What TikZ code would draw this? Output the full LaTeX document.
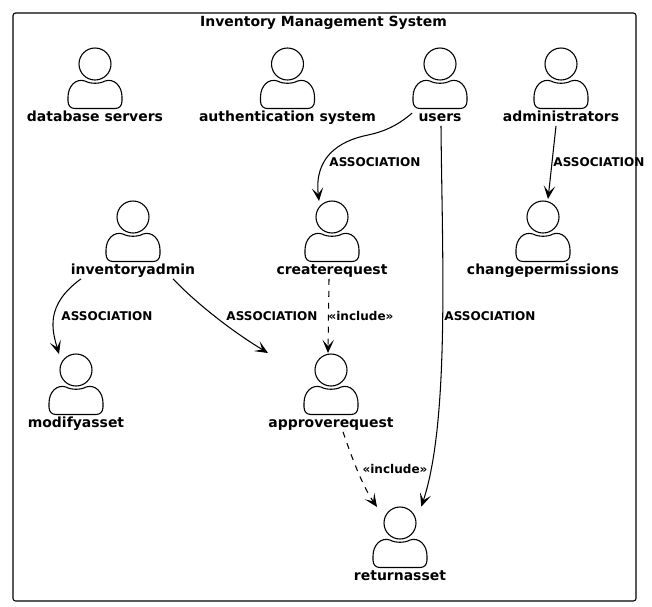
\documentclass[tikz,border=0pt]{standalone}
\usepackage{fontspec}
\setmainfont{DejaVu Sans}[BoldFont={DejaVu Sans Bold}]
\usetikzlibrary{arrows.meta}
\tikzset{
  actorline/.style={line width=.62pt},
  actorname/.style={inner sep=0pt,text height=5.8pt,text depth=1.6pt,font=\fontsize{7.95}{9}\selectfont\bfseries},
  linktext/.style={inner sep=0pt,text height=5pt,text depth=1.4pt,font=\fontsize{6.85}{8}\selectfont\bfseries},
  assoc/.style={line width=.6pt,-{Stealth[length=7.5pt,width=6.5pt,inset=3.6pt]}},
  incl/.style={assoc,dash pattern=on 3.4pt off 3.4pt},
  pics/actorfig/.style={code={
    \node[actorline,draw,circle,minimum size=.64cm,inner sep=0pt,outer sep=0pt] (-head) at (0,0) {};
    \draw[actorline] (-10,17) .. controls (-5,20) and (5,20) .. (10,17)
      .. controls (19,14) and (27,22) .. (27,33) -- (27,37)
      .. controls (27,42) and (24,44.5) .. (20,44.5) -- (-20,44.5)
      .. controls (-24,44.5) and (-27,42) .. (-27,37) -- (-27,33)
      .. controls (-27,22) and (-19,14) .. (-10,17);
    \node[actorname] (-label) at (0,54) {#1};
  }},
}
\begin{document}
\begin{tikzpicture}[x=.02cm,y=-.02cm]
    \useasboundingbox (0,0) rectangle (652,606);
    \node[draw,line width=.62pt,rounded corners=1.5pt,minimum width=623*.02cm,minimum height=588*.02cm,inner sep=0pt] (system) at (324.5,307) {};
    \node[actorname] (systemtitle) at (323.5,22.5) {Inventory Management System};
    % top row
    \pic (database) at (95,64) {actorfig={database servers}};
    \pic (authentication) at (287.5,64) {actorfig={authentication system}};
    \pic (users) at (440,64) {actorfig={users}};
    \pic (administrators) at (561,64) {actorfig={administrators}};
    % middle row
    \pic (inventoryadmin) at (133,217) {actorfig={inventoryadmin}};
    \pic (createrequest) at (332,217) {actorfig={createrequest}};
    \pic (changepermissions) at (543,217) {actorfig={changepermissions}};
    % lower rows
    \pic (modifyasset) at (76,370) {actorfig={modifyasset}};
    \pic (approverequest) at (331,370) {actorfig={approverequest}};
    \pic (returnasset) at (400,523) {actorfig={returnasset}};
    \coordinate (approveend) at (268,353);
    % links
    \draw[assoc] ([shift={(-6,-5)}]users-label.west) .. controls (396,127) and (382,132) .. (368,135)
      .. controls (338,141) and (314,158) .. ([shift={(-13,0)}]createrequest-head.north);
    \draw[assoc] ([shift={(1,1)}]users-label.south) .. controls (442,250) and (450,420) .. ([shift={(10,-5)}]returnasset-head.north east);
    \draw[assoc] ([shift={(-5,1)}]administrators-label.south) -- ([shift={(5,-18)}]changepermissions-head.center);
    \draw[incl] ([shift={(-3,1)}]createrequest-label.south) -- ([shift={(-3,-1)}]approverequest-head.north);
    \draw[assoc] ([shift={(-52,1)}]inventoryadmin-label.south) .. controls (45,305) and (52,330) .. ([shift={(-17,0)}]modifyasset-head.north);
    \draw[assoc] ([shift={(40,1)}]inventoryadmin-label.south) .. controls (195,302) and (230,330) .. (approveend);
    \draw[incl] ([shift={(12,1)}]approverequest-label.south) .. controls (352,458) and (362,485) .. ([shift={(-23,0)}]returnasset-head.north);
    % link texts
    \node[linktext] (assocone) at (375,163) {ASSOCIATION};
    \node[linktext] (assoctwo) at (599,163) {ASSOCIATION};
    \node[linktext] (assocthree) at (107,317) {ASSOCIATION};
    \node[linktext] (assocfour) at (272,317) {ASSOCIATION};
    \node[linktext] (assocfive) at (490,317) {ASSOCIATION};
    \node[linktext] (includeone) at (361,317) {«include»};
    \node[linktext] (includetwo) at (395,470) {«include»};
  \end{tikzpicture}
\end{document}
